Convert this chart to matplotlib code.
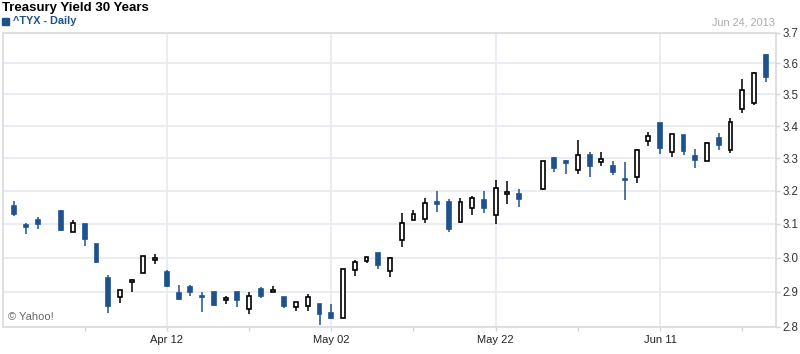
import numpy as np
import matplotlib
matplotlib.use('Agg')
import matplotlib.pyplot as plt

plt.rcParams['font.family'] = ['Liberation Sans', 'DejaVu Sans']

# ^TYX daily candles
dates = ['2013-03-26', '2013-03-27', '2013-03-28', '2013-04-01', '2013-04-02', '2013-04-03',
         '2013-04-04', '2013-04-05', '2013-04-08', '2013-04-09', '2013-04-10', '2013-04-11',
         '2013-04-12', '2013-04-15', '2013-04-16', '2013-04-17', '2013-04-18', '2013-04-19',
         '2013-04-22', '2013-04-23', '2013-04-24', '2013-04-25', '2013-04-26', '2013-04-29',
         '2013-04-30', '2013-05-01', '2013-05-02', '2013-05-03', '2013-05-06', '2013-05-07',
         '2013-05-08', '2013-05-09', '2013-05-10', '2013-05-13', '2013-05-14', '2013-05-15',
         '2013-05-16', '2013-05-17', '2013-05-20', '2013-05-21', '2013-05-22', '2013-05-23',
         '2013-05-24', '2013-05-28', '2013-05-29', '2013-05-30', '2013-05-31', '2013-06-03',
         '2013-06-04', '2013-06-05', '2013-06-06', '2013-06-07', '2013-06-10', '2013-06-11',
         '2013-06-12', '2013-06-13', '2013-06-14', '2013-06-17', '2013-06-18', '2013-06-19',
         '2013-06-20', '2013-06-21', '2013-06-24']
opens = [3.154, 3.096, 3.111, 3.138, 3.076, 3.101, 3.040, 2.939, 2.886, 2.928, 2.954, 2.993,
         2.958, 2.896, 2.915, 2.888, 2.899, 2.876, 2.899, 2.851, 2.907, 2.900, 2.884, 2.856,
         2.860, 2.864, 2.840, 2.824, 2.964, 2.990, 3.014, 2.961, 3.051, 3.113, 3.116, 3.165,
         3.165, 3.106, 3.147, 3.171, 3.128, 3.189, 3.190, 3.205, 3.300, 3.290, 3.263, 3.310,
         3.288, 3.276, 3.237, 3.241, 3.353, 3.411, 3.318, 3.373, 3.306, 3.293, 3.364, 3.327,
         3.455, 3.473, 3.628]
highs = [3.168, 3.104, 3.120, 3.141, 3.111, 3.101, 3.040, 2.948, 2.905, 2.936, 3.004, 3.011,
         2.964, 2.919, 2.921, 2.901, 2.901, 2.887, 2.899, 2.901, 2.913, 2.918, 2.884, 2.872,
         2.893, 2.864, 2.866, 2.966, 2.993, 3.001, 3.014, 3.002, 3.132, 3.143, 3.179, 3.201,
         3.176, 3.177, 3.184, 3.201, 3.234, 3.231, 3.207, 3.290, 3.303, 3.294, 3.356, 3.319,
         3.318, 3.290, 3.288, 3.328, 3.381, 3.411, 3.375, 3.373, 3.328, 3.350, 3.378, 3.426,
         3.550, 3.571, 3.631]
lows = [3.124, 3.070, 3.086, 3.078, 3.076, 3.034, 2.983, 2.840, 2.869, 2.900, 2.954, 2.980,
        2.915, 2.877, 2.888, 2.843, 2.860, 2.866, 2.857, 2.836, 2.882, 2.900, 2.854, 2.846,
        2.846, 2.806, 2.823, 2.824, 2.945, 2.983, 2.968, 2.944, 3.032, 3.113, 3.103, 3.137,
        3.076, 3.103, 3.128, 3.133, 3.100, 3.160, 3.152, 3.202, 3.258, 3.250, 3.253, 3.242,
        3.275, 3.247, 3.171, 3.224, 3.339, 3.313, 3.304, 3.310, 3.271, 3.293, 3.325, 3.317,
        3.441, 3.466, 3.541]
closes = [3.130, 3.091, 3.101, 3.081, 3.104, 3.055, 2.986, 2.860, 2.905, 2.934, 3.004, 3.000,
          2.917, 2.880, 2.901, 2.885, 2.863, 2.882, 2.877, 2.887, 2.888, 2.906, 2.858, 2.872,
          2.884, 2.837, 2.826, 2.966, 2.988, 3.001, 2.977, 2.998, 3.104, 3.131, 3.164, 3.160,
          3.085, 3.167, 3.177, 3.148, 3.210, 3.198, 3.176, 3.290, 3.271, 3.286, 3.310, 3.275,
          3.298, 3.259, 3.233, 3.324, 3.368, 3.333, 3.375, 3.323, 3.295, 3.348, 3.342, 3.413,
          3.513, 3.568, 3.557]

major_dates = ['2013-04-12', '2013-05-02', '2013-05-22', '2013-06-11']
major_labels = ['Apr 12', 'May 02', 'May 22', 'Jun 11']
minor_dates = ['2013-04-03', '2013-04-23', '2013-05-13', '2013-05-31', '2013-06-20']
y_ticks = [2.8, 2.9, 3.0, 3.1, 3.2, 3.3, 3.4, 3.5, 3.6, 3.7]

blue = '#1d528c'
grid_c = '#e7ebf2'

# x position = weekday index (holidays leave a gap)
start = dates[0]
x = np.busday_count(start, dates)
o = np.array(opens)
c = np.array(closes)
h = np.array(highs)
l = np.array(lows)
up = c >= o

fig = plt.figure(figsize=(8, 3.54), dpi=100)
ax = fig.add_axes([3 / 800, 1 - 326.7 / 354, 772.7 / 800, 294.2 / 354])
ax.set_yscale('function', functions=(np.sqrt, np.square))

# wicks
ax.vlines(x[up], l[up], h[up], color='black', lw=1.1, zorder=2)
ax.vlines(x[~up], l[~up], h[~up], color=blue, lw=1.1, zorder=2)

# bodies
w = 0.33
body_lo = np.minimum(o, c)
body_h = np.maximum(np.abs(c - o), 0.002)
ax.bar(x[up], body_h[up], bottom=body_lo[up], width=w, facecolor='white',
       edgecolor='black', linewidth=1.2, zorder=3)
ax.bar(x[~up], body_h[~up], bottom=body_lo[~up], width=w, facecolor=blue,
       edgecolor=blue, linewidth=1.2, zorder=3)

ax.set_ylim(2.8, 3.7)
ax.set_xlim(-0.96, 64.85)

ax.yaxis.tick_right()
ax.set_yticks(y_ticks)
ax.set_yticklabels([f'{v:.1f}' for v in y_ticks])
ax.yaxis.set_minor_locator(matplotlib.ticker.NullLocator())
ax.tick_params(axis='y', which='both', length=3, width=1, color='#d4d4d4',
               labelsize=8.3, labelcolor='#333333', pad=2)

ax.set_xticks(np.busday_count(start, major_dates))
ax.set_xticklabels(major_labels)
ax.set_xticks(np.busday_count(start, minor_dates), minor=True)
ax.tick_params(axis='x', which='both', length=3, width=1, color='#d4d4d4',
               labelsize=8, labelcolor='#222222', pad=3)

ax.grid(True, axis='y', color=grid_c, lw=1.3, zorder=0)
ax.grid(True, axis='x', which='major', color=grid_c, lw=1.3, zorder=0)
ax.set_axisbelow(True)
for s in ax.spines.values():
    s.set_color('#dcdcdc')
    s.set_linewidth(1.3)

ax.text(0.006, 0.015, '\u00a9 Yahoo!', transform=ax.transAxes, fontsize=8,
        color='#666666', ha='left', va='bottom')

fig.text(2 / 800, 1 - 7.5 / 354, 'Treasury Yield 30 Years', fontsize=9.5,
         fontweight='bold', color='black', ha='left', va='center')
fig.patches.append(plt.Rectangle((2 / 800, 1 - 25 / 354), 7 / 800, 7 / 354,
                                 transform=fig.transFigure, color=blue))
fig.text(13 / 800, 1 - 21.5 / 354, '^TYX - Daily', fontsize=7.8, fontweight='bold',
         color=blue, ha='left', va='center')
fig.text(775 / 800, 1 - 22.5 / 354, 'Jun 24, 2013', fontsize=7.8, color='#aaaaaa',
         ha='right', va='center')

fig.savefig('out.png', dpi=100)
